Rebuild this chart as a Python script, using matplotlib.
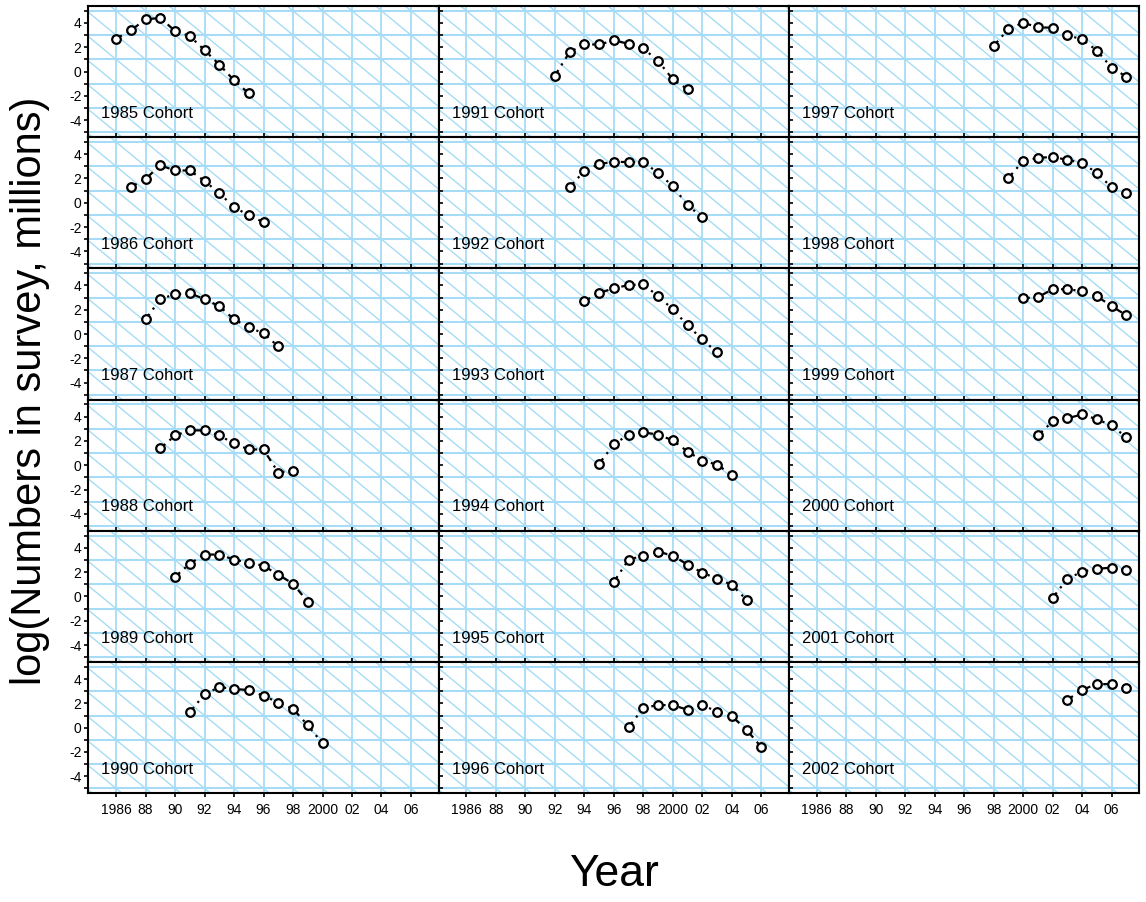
import matplotlib
matplotlib.use("Agg")
import matplotlib.pyplot as plt
from matplotlib.ticker import MultipleLocator

plt.rcParams['font.family'] = ['Liberation Sans', 'DejaVu Sans']

# cohort -> (survey years, log numbers in millions)
cohorts = list(range(1985, 2003))
values = {
    1985: [2.70, 3.39, 4.30, 4.41, 3.34, 2.92, 1.76, 0.58, -0.72, -1.80],
    1986: [1.29, 1.97, 3.08, 2.66, 2.66, 1.79, 0.80, -0.36, -1.03, -1.60],
    1987: [1.21, 2.87, 3.28, 3.36, 2.87, 2.29, 1.21, 0.55, 0.06, -1.02],
    1988: [1.38, 2.45, 2.87, 2.87, 2.45, 1.79, 1.30, 1.30, -0.60, -0.44],
    1989: [1.62, 2.70, 3.45, 3.45, 3.03, 2.78, 2.53, 1.79, 1.05, -0.44],
    1990: [1.27, 2.76, 3.34, 3.20, 3.09, 2.62, 2.07, 1.55, 0.20, -1.29],
    1991: [-0.34, 1.60, 2.23, 2.23, 2.56, 2.29, 1.90, 0.88, -0.64, -1.46],
    1992: [1.29, 2.62, 3.20, 3.36, 3.36, 3.36, 2.45, 1.37, -0.20, -1.19],
    1993: [2.70, 3.36, 3.78, 4.02, 4.10, 3.11, 2.04, 0.71, -0.44, -1.52],
    1994: [0.13, 1.71, 2.53, 2.70, 2.53, 2.04, 1.13, 0.38, 0.05, -0.78],
    1995: [1.21, 3.03, 3.36, 3.69, 3.36, 2.62, 1.96, 1.46, 0.96, -0.28],
    1996: [0.05, 1.62, 1.87, 1.85, 1.48, 1.87, 1.32, 0.94, -0.17, -1.60],
    1997: [2.12, 3.50, 4.02, 3.64, 3.61, 2.97, 2.67, 1.73, 0.32, -0.42],
    1998: [2.04, 3.45, 3.69, 3.78, 3.53, 3.28, 2.45, 1.27, 0.79],
    1999: [2.95, 3.03, 3.69, 3.69, 3.53, 3.11, 2.29, 1.54],
    2000: [2.45, 3.61, 3.86, 4.19, 3.78, 3.28, 2.29],
    2001: [-0.11, 1.46, 2.04, 2.28, 2.37, 2.20],
    2002: [2.29, 3.12, 3.59, 3.59, 3.26],
}

xticks = list(range(1986, 2007, 2))
xticklabels = ['1986', '88', '90', '92', '94', '96', '98', '2000', '02', '04', '06']
yticks = [-4, -2, 0, 2, 4]
grid_col = '#a6dcf6'

fig, axes = plt.subplots(6, 3, figsize=(11.46, 9.02), dpi=100)
fig.subplots_adjust(left=0.0771, right=0.9942, top=0.9934, bottom=0.1205,
                    wspace=0, hspace=0)

for i, coh in enumerate(cohorts):
    col, row = divmod(i, 6)
    ax = axes[row, col]
    ys = values[coh]
    years = list(range(coh + 1, coh + 1 + len(ys)))

    ax.set_xlim(1984.12, 2007.88)
    ax.set_ylim(-5.4, 5.4)

    # background grid: even years, odd log values, and Z=1 diagonals
    for x in xticks:
        ax.axvline(x, color=grid_col, lw=1.3, zorder=0)
    for y in range(-5, 6, 2):
        ax.axhline(y, color=grid_col, lw=1.5, zorder=0)
    for k in range(1975, 2020, 2):
        ax.axline((k, 0), slope=-1, color=grid_col, lw=1.0, zorder=0)

    ax.plot(years, ys, color='black', lw=1.6, ls=(0, (3, 2.5, 1, 2.5)),
            marker='o', ms=6.2, mfc='white', mec='black', mew=1.6, zorder=3)
    ax.text(1985.0, -3.8, f'{coh} Cohort', fontsize=12, ha='left',
            va='baseline', zorder=4)

    ax.set_xticks(xticks)
    ax.set_yticks(yticks)
    ax.yaxis.set_minor_locator(MultipleLocator(1))
    for s in ax.spines.values():
        s.set_linewidth(1.5)
        s.set_zorder(5)

    if row == 5:
        ax.tick_params(axis='x', direction='out', length=3, width=1.2,
                       labelsize=10, pad=4)
        ax.set_xticklabels(xticklabels)
    else:
        ax.tick_params(axis='x', direction='in', length=3, width=1.2,
                       labelbottom=False)
    if col == 0:
        ax.tick_params(axis='y', which='both', direction='out', length=3,
                       width=1.2, labelsize=10, pad=2)
        ax.set_yticklabels([str(v) for v in yticks])
    else:
        ax.tick_params(axis='y', which='both', direction='in', length=3,
                       width=1.2, labelleft=False)

fig.text(30 / 1146, 1 - 391 / 902, 'log(Numbers in survey, millions)',
         rotation=90, ha='center', va='center', fontsize=30)
fig.text(614 / 1146, 1 - 875 / 902, 'Year', ha='center', va='center',
         fontsize=32)

fig.savefig('out.png', dpi=100)
